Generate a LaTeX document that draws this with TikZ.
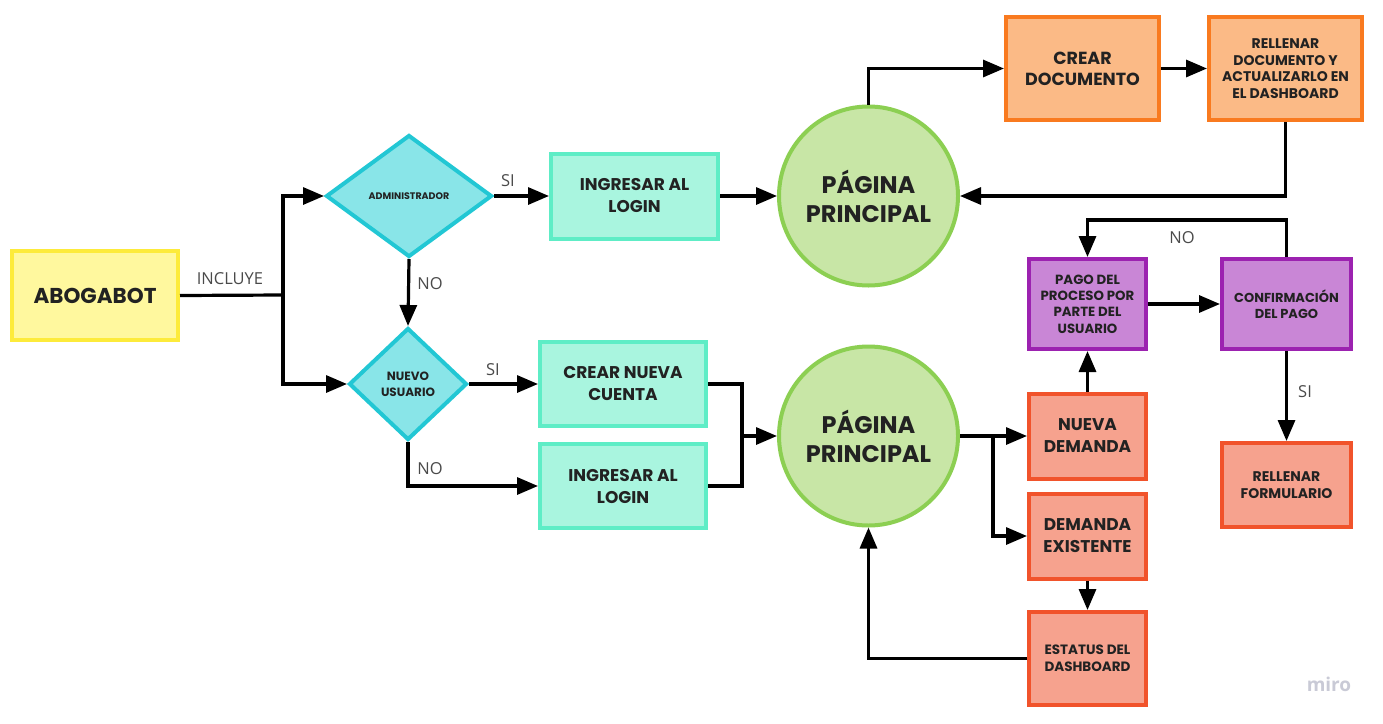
\documentclass[tikz,border=0pt]{standalone}
\usepackage{fontspec}
\setmainfont{Open Sans}
\newfontfamily\nodefont{Poppins}
\usetikzlibrary{shapes.geometric,arrows.meta}
\definecolor{ylwF}{HTML}{FFF89E}
\definecolor{ylwD}{HTML}{FDEB3B}
\definecolor{cyaF}{HTML}{89E5E8}
\definecolor{cyaD}{HTML}{22C7D4}
\definecolor{tealF}{HTML}{A9F5DF}
\definecolor{tealD}{HTML}{5EEDC6}
\definecolor{grnF}{HTML}{C8E6A6}
\definecolor{grnD}{HTML}{8CCF52}
\definecolor{orgF}{HTML}{FBBA86}
\definecolor{orgD}{HTML}{F97A1F}
\definecolor{purF}{HTML}{C986D6}
\definecolor{purD}{HTML}{9C22B0}
\definecolor{salF}{HTML}{F6A28E}
\definecolor{salD}{HTML}{F1532B}
\definecolor{txt}{HTML}{222222}
\definecolor{lbl}{HTML}{4A4A4A}
\definecolor{miroc}{HTML}{C9CAD6}
\tikzset{
  box/.style={rectangle, line width=4pt, inner sep=0pt, align=center, text=txt,
    font=\nodefont\bfseries},
  yl/.style={box, fill=ylwF, draw=ylwD},
  tl/.style={box, fill=tealF, draw=tealD},
  og/.style={box, fill=orgF, draw=orgD},
  pp/.style={box, fill=purF, draw=purD},
  sl/.style={box, fill=salF, draw=salD},
  dia/.style={diamond, line width=4pt, inner sep=0pt, align=center, text=txt,
    fill=cyaF, draw=cyaD, font=\nodefont\bfseries},
  circ/.style={circle, line width=4pt, inner sep=0pt, align=center, text=txt,
    fill=grnF, draw=grnD, minimum size=179pt, font=\nodefont\bfseries\fontsize{24}{29}\selectfont},
  conn/.style={line width=3.2pt, -{Triangle[length=21pt,width=17pt]}},
  plain/.style={line width=3.2pt},
  lab/.style={text=lbl, font=\fontsize{16.5}{18}\selectfont, inner sep=0pt}
}
\begin{document}
\begin{tikzpicture}[x=1pt,y=-1pt]
\useasboundingbox[fill=white] (0,0) rectangle (1383,723);

% nodes
\node[yl, minimum width=166pt, minimum height=89pt, font=\nodefont\bfseries\fontsize{21.5}{24}\selectfont] (abo) at (95,295.5) {ABOGABOT};
\node[dia, minimum width=166pt, minimum height=122pt, aspect=1.36, font=\nodefont\bfseries\fontsize{9.5}{11}\selectfont] (adm) at (409,196) {ADMINISTRADOR};
\node[dia, minimum width=118pt, minimum height=112pt, aspect=1.05, font=\nodefont\bfseries\fontsize{12}{16}\selectfont] (nue) at (408,384) {NUEVO\\USUARIO};
\node[tl, minimum width=167pt, minimum height=85pt, font=\nodefont\bfseries\fontsize{17}{22}\selectfont] (ing1) at (634.5,196) {INGRESAR AL\\LOGIN};
\node[tl, minimum width=166pt, minimum height=84pt, font=\nodefont\bfseries\fontsize{17}{22}\selectfont] (cnc) at (623,384) {CREAR NUEVA\\CUENTA};
\node[tl, minimum width=166pt, minimum height=84pt, font=\nodefont\bfseries\fontsize{17}{22}\selectfont] (ing2) at (623,486) {INGRESAR AL\\LOGIN};
\node[circ] (pp1) at (868.5,196) {PÁGINA\\PRINCIPAL};
\node[circ] (pp2) at (868.5,436) {PÁGINA\\PRINCIPAL};
\node[og, minimum width=153pt, minimum height=103pt, font=\nodefont\bfseries\fontsize{17.5}{21}\selectfont] (crd) at (1082.5,68.5) {CREAR\\DOCUMENTO};
\node[og, minimum width=153pt, minimum height=103pt, font=\nodefont\bfseries\fontsize{14}{16.5}\selectfont] (rdo) at (1285.5,68.5) {RELLENAR\\DOCUMENTO Y\\ACTUALIZARLO EN\\EL DASHBOARD};
\node[pp, minimum width=117pt, minimum height=90pt, font=\nodefont\bfseries\fontsize{13.3}{16.3}\selectfont] (pag) at (1087.5,304) {PAGO DEL\\PROCESO POR\\PARTE DEL\\USUARIO};
\node[pp, minimum width=129pt, minimum height=90pt, font=\nodefont\bfseries\fontsize{13}{16}\selectfont] (con) at (1286.5,304) {CONFIRMACIÓN\\DEL PAGO};
\node[sl, minimum width=129pt, minimum height=84pt, font=\nodefont\bfseries\fontsize{14}{16.5}\selectfont] (rfo) at (1286.5,485) {RELLENAR\\FORMULARIO};
\node[sl, minimum width=117pt, minimum height=85pt, font=\nodefont\bfseries\fontsize{17}{22}\selectfont] (nde) at (1087.5,436) {NUEVA\\DEMANDA};
\node[sl, minimum width=117pt, minimum height=85pt, font=\nodefont\bfseries\fontsize{17}{22}\selectfont] (dex) at (1087.5,536) {DEMANDA\\EXISTENTE};
\node[sl, minimum width=117pt, minimum height=93pt, font=\nodefont\bfseries\fontsize{13.5}{17}\selectfont] (est) at (1087.5,658.5) {ESTATUS DEL\\DASHBOARD};

% helper coordinates
\coordinate (j1) at (283,295);
\coordinate (j2) at (742,436);
\coordinate (j3) at (993,436);

% connectors
\draw[plain] (abo.east) -- (j1);
\draw[conn] (j1) |- (adm.west);
\draw[conn] (j1) |- (nue.west);
\node[lab, anchor=base] (linc) at (230,284) {INCLUYE};
\draw[conn] (adm.south) -- (nue.north);
\node[lab, anchor=base] (lno1) at (430,289) {NO};
\draw[conn] (adm.east) -- (ing1.west);
\node[lab, anchor=base] (lsi1) at (508,186) {SI};
\draw[conn] (ing1.east) -- (pp1.west);
\draw[conn] (pp1.north) |- (crd.west);
\draw[conn] (crd.east) -- (rdo.west);
\draw[conn] (rdo.south) |- (pp1.east);
\draw[conn] (nue.east) -- (cnc.west);
\node[lab, anchor=base] (lsi2) at (493,375) {SI};
\draw[conn] (nue.south) |- (ing2.west);
\node[lab, anchor=base] (lno2) at (430,474) {NO};
\draw[plain] (cnc.east) -| (j2);
\draw[plain] (ing2.east) -| (j2);
\draw[conn] (j2) -- (pp2.west);
\draw[plain] (pp2.east) -- (j3);
\draw[conn] (j3) -- (nde.west);
\draw[conn] (j3) |- (dex.west);
\draw[conn] (dex.south) -- (est.north);
\draw[conn] (est.west) -| (pp2.south);
\draw[conn] (nde.north) -- (pag.south);
\draw[conn] (pag.east) -- (con.west);
\draw[conn] (con.north) -- ++(0,-37) -| (pag.north);
\node[lab, anchor=base] (lno3) at (1182,243) {NO};
\draw[conn] (con.south) -- (rfo.north);
\node[lab, anchor=base] (lsi3) at (1305,397) {SI};

\node[text=miroc, font=\fontsize{19}{22}\selectfont\bfseries, inner sep=0pt] (miro) at (1329,684) {miro};
\end{tikzpicture}
\end{document}
